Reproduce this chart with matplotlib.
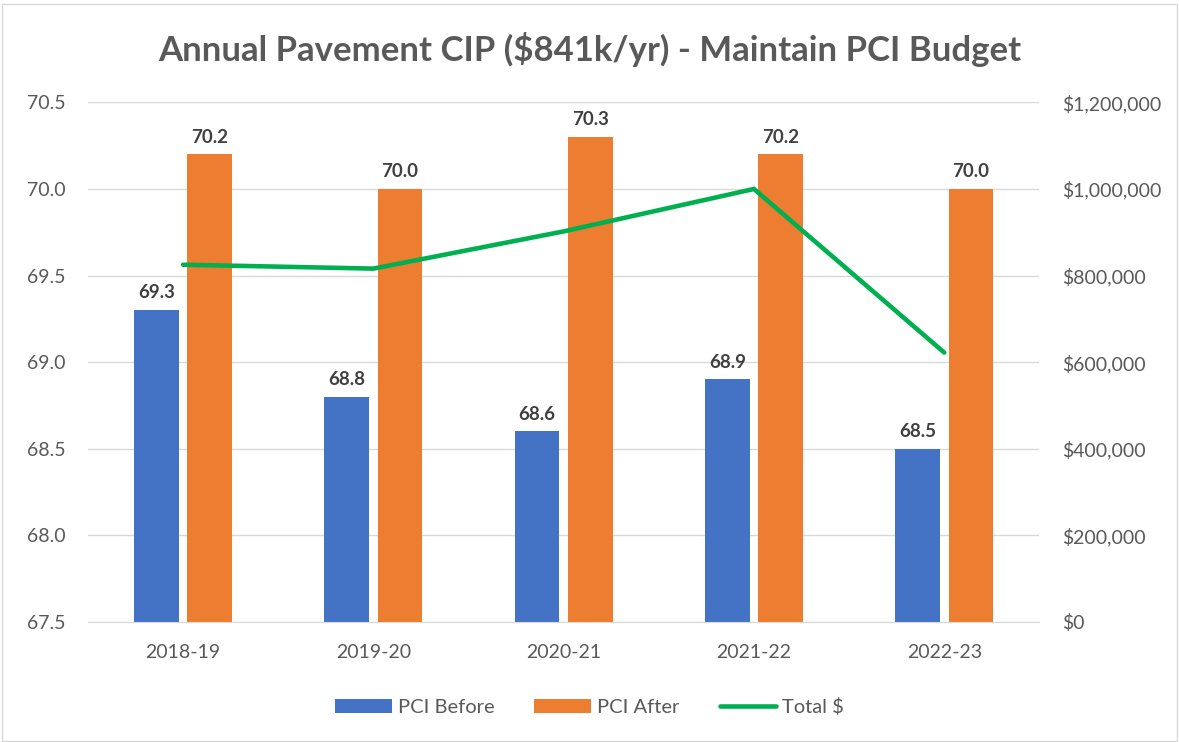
import numpy as np
import matplotlib
matplotlib.use("Agg")
import matplotlib.pyplot as plt
from matplotlib.ticker import FuncFormatter

plt.rcParams['font.family'] = ['Lato', 'DejaVu Sans']

# data
years = ["2018-19", "2019-20", "2020-21", "2021-22", "2022-23"]
pci_before = [69.3, 68.8, 68.6, 68.9, 68.5]
pci_after = [70.2, 70.0, 70.3, 70.2, 70.0]
total_dollars = [825000, 816000, 902000, 1000000, 622000]

blue = "#4472C4"
orange = "#ED7D31"
green = "#00B050"
txt = "#595959"

fig = plt.figure(figsize=(11.79, 7.42), dpi=100)
ax = fig.add_axes([0.0746, 0.162, 0.807, 0.700])
ax2 = ax.twinx()

x = np.arange(len(years))
w = 0.235
b1 = ax.bar(x - 0.14, pci_before, w, color=blue, label="PCI Before", zorder=2)
b2 = ax.bar(x + 0.14, pci_after, w, color=orange, label="PCI After", zorder=2)
ln, = ax2.plot(x, total_dollars, color=green, lw=3.3, label="Total $",
               solid_capstyle="round", solid_joinstyle="miter")

for bars in (b1, b2):
    for r in bars:
        ax.text(r.get_x() + r.get_width() / 2, r.get_height() + 0.05,
                "%.1f" % r.get_height(), ha="center", va="bottom",
                fontsize=13.5, fontweight="bold", color="#404040")

ax.set_ylim(67.5, 70.5)
ax.set_yticks(np.arange(67.5, 70.51, 0.5))
ax.yaxis.set_major_formatter(FuncFormatter(lambda v, p: "%.1f" % v))
ax.set_xlim(-0.5, 4.5)
ax.set_xticks(x)
ax.set_xticklabels(years)
ax.grid(axis="y", color="#D9D9D9", lw=1, zorder=0)
ax.set_axisbelow(True)

ax2.set_ylim(0, 1200000)
ax2.set_yticks(np.arange(0, 1200001, 200000))
ax2.yaxis.set_major_formatter(FuncFormatter(lambda v, p: "${:,.0f}".format(v)))

for a in (ax, ax2):
    for s in a.spines.values():
        s.set_visible(False)
    a.tick_params(length=0, labelsize=14, colors=txt, pad=16)
ax.tick_params(axis="x", pad=16)
ax.spines["bottom"].set_visible(True)
ax.spines["bottom"].set_color("#D9D9D9")

fig.suptitle("Annual Pavement CIP ($841k/yr) - Maintain PCI Budget",
             x=0.5, y=0.957, fontsize=25, fontweight="bold", color=txt)

fig.legend(handles=[b1, b2, ln], loc="lower center", ncol=3,
           bbox_to_anchor=(0.5, 0.01), frameon=False, fontsize=14.5,
           labelcolor=txt, handlelength=2.8, columnspacing=2.0,
           handletextpad=0.3)

fig.patches.append(plt.Rectangle((0.002, 0.002), 0.996, 0.993,
                                 transform=fig.transFigure, fill=False,
                                 edgecolor="#D9D9D9", lw=1))

fig.savefig("out.png", dpi=100)
